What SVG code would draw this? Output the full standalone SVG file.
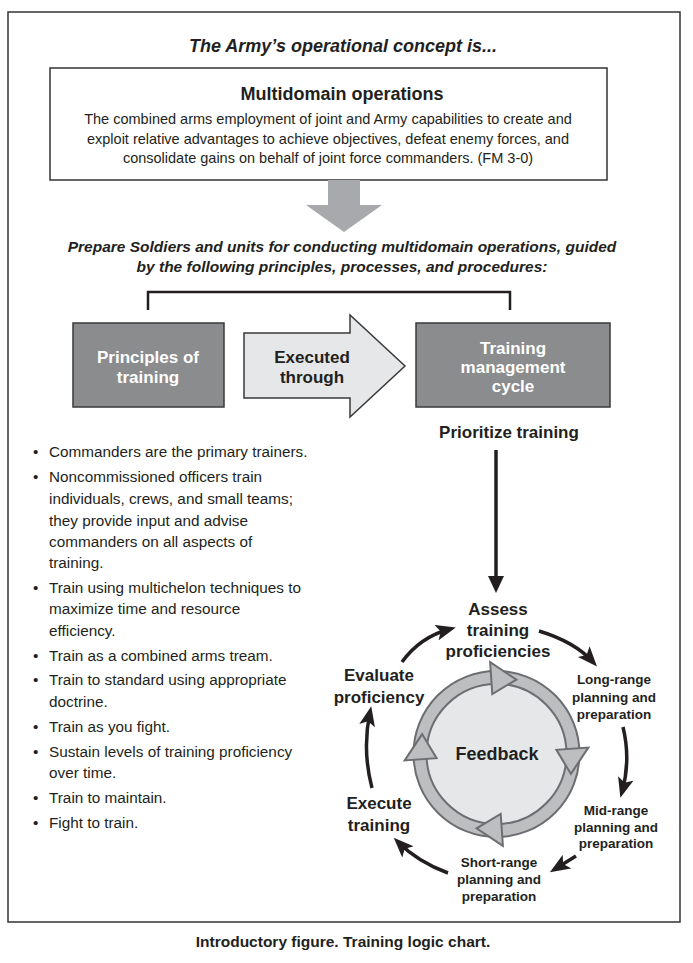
<svg xmlns="http://www.w3.org/2000/svg" width="693" height="963" viewBox="0 0 693 963">
<style>
text{font-family:"Liberation Sans",Arial,sans-serif;fill:#231f20}
.b{font-weight:bold}
.bi{font-weight:bold;font-style:italic}
.c{text-anchor:middle}
.w{fill:#ffffff}
.box{fill:#8a8c8e;stroke:#3a3a3a;stroke-width:1.5}
.ca{fill:none;stroke:#231f20;stroke-width:3.5;marker-end:url(#ah)}
.ring{fill:#bcbec0;stroke:#6d6e71;stroke-width:2;stroke-linejoin:miter}
</style>
<defs>
<marker id="ah" viewBox="0 0 20 16" markerWidth="20" markerHeight="16" refX="14" refY="8" orient="auto" markerUnits="userSpaceOnUse">
<path d="M0,0 L20,8 L0,16 L4.5,8 z" fill="#231f20"/>
</marker>
</defs>
<rect x="0" y="0" width="693" height="963" fill="#ffffff"/>
<rect x="8" y="12" width="672" height="910" fill="none" stroke="#333" stroke-width="1.5"/>
<text class="bi c" x="343" y="52" font-size="18">The Army’s operational concept is...</text>
<g id="multidomain">
<rect x="50" y="68" width="557" height="112" fill="#fff" stroke="#333" stroke-width="1.5"/>
<text class="b c" x="342" y="100" font-size="18">Multidomain operations</text>
<text class="c" x="328" y="124" font-size="14.5">The combined arms employment of joint and Army capabilities to create and</text>
<text class="c" x="328" y="144" font-size="14.5">exploit relative advantages to achieve objectives, defeat enemy forces, and</text>
<text class="c" x="328" y="163" font-size="14.5">consolidate gains on behalf of joint force commanders. (FM 3-0)</text>
</g>
<polygon points="328,180 360,180 360,205 382,205 344,232 306,205 328,205" fill="#a7a9ac"/>
<text class="bi c" x="342" y="252" font-size="15.5">Prepare Soldiers and units for conducting multidomain operations, guided</text>
<text class="bi c" x="342" y="272" font-size="15.5">by the following principles, processes, and procedures:</text>
<path d="M148,310 V292 H510 V310" fill="none" stroke="#231f20" stroke-width="2.5"/>
<g id="principles">
<rect class="box" x="73" y="323" width="151" height="84"/>
<text class="b c w" x="148" y="363" font-size="17">Principles of</text>
<text class="b c w" x="148" y="383" font-size="17">training</text>
</g>
<g id="executed">
<polygon points="244,333 350,333 350,315 405,366 350,417 350,398 244,398" fill="#e6e7e8" stroke="#3a3a3a" stroke-width="1.5"/>
<text class="b c" x="312" y="363" font-size="17">Executed</text>
<text class="b c" x="312" y="383" font-size="17">through</text>
</g>
<g id="tmc">
<rect class="box" x="416" y="323" width="194" height="84"/>
<text class="b c w" x="513" y="354" font-size="17">Training</text>
<text class="b c w" x="513" y="373" font-size="17">management</text>
<text class="b c w" x="513" y="392" font-size="17">cycle</text>
</g>
<g id="prioritize">
<text class="b c" x="509" y="438" font-size="17">Prioritize training</text>
</g>
<g id="principles-list" font-size="15.3">
<text x="33" y="457">•</text><text x="49" y="457">Commanders are the primary trainers.</text>
<text x="33" y="482">•</text><text x="49" y="482">Noncommissioned officers train</text>
<text x="49" y="504">individuals, crews, and small teams;</text>
<text x="49" y="526">they provide input and advise</text>
<text x="49" y="547">commanders on all aspects of</text>
<text x="49" y="568">training.</text>
<text x="33" y="593">•</text><text x="49" y="593">Train using multichelon techniques to</text>
<text x="49" y="614">maximize time and resource</text>
<text x="49" y="636">efficiency.</text>
<text x="33" y="661">•</text><text x="49" y="661">Train as a combined arms tream.</text>
<text x="33" y="685">•</text><text x="49" y="685">Train to standard using appropriate</text>
<text x="49" y="707">doctrine.</text>
<text x="33" y="732">•</text><text x="49" y="732">Train as you fight.</text>
<text x="33" y="757">•</text><text x="49" y="757">Sustain levels of training proficiency</text>
<text x="49" y="778">over time.</text>
<text x="33" y="803">•</text><text x="49" y="803">Train to maintain.</text>
<text x="33" y="828">•</text><text x="49" y="828">Fight to train.</text>
</g>
<g id="feedback">
<circle cx="496.5" cy="754" r="83" fill="#bcbec0" stroke="#6d6e71" stroke-width="2"/>
<circle cx="496.5" cy="754" r="70" fill="#e6e7e8" stroke="#6d6e71" stroke-width="2"/>
<polygon class="ring" points="490.1,662.2 516.4,679.6 492.3,694.1"/>
<polygon class="ring" points="588.3,747.6 570.9,773.9 556.4,749.8"/>
<polygon class="ring" points="502.9,845.8 476.6,828.4 500.7,813.9"/>
<polygon class="ring" points="404.7,760.4 422.1,734.1 436.6,758.2"/>
<text class="b c" x="497" y="760" font-size="18">Feedback</text>
</g>
<g id="assess">
<text class="b c" x="498" y="615" font-size="17">Assess</text>
<text class="b c" x="498" y="636" font-size="17">training</text>
<text class="b c" x="498" y="657" font-size="17">proficiencies</text>
</g>
<g id="long" font-size="13.5">
<text class="b c" x="614" y="684">Long-range</text>
<text class="b c" x="614" y="702">planning and</text>
<text class="b c" x="614" y="719">preparation</text>
</g>
<g id="mid" font-size="13.5">
<text class="b c" x="616" y="815">Mid-range</text>
<text class="b c" x="616" y="832">planning and</text>
<text class="b c" x="616" y="848">preparation</text>
</g>
<g id="short" font-size="13.5">
<text class="b c" x="499" y="867">Short-range</text>
<text class="b c" x="499" y="884">planning and</text>
<text class="b c" x="499" y="901">preparation</text>
</g>
<g id="execute">
<text class="b c" x="379" y="809" font-size="17">Execute</text>
<text class="b c" x="379" y="831" font-size="17">training</text>
</g>
<g id="evaluate">
<text class="b c" x="379" y="681" font-size="17">Evaluate</text>
<text class="b c" x="379" y="703" font-size="17">proficiency</text>
</g>
<g id="connectors">
<line x1="496" y1="450" x2="496" y2="579" stroke="#231f20" stroke-width="3.5"/>
<polygon points="488,576 504,576 496,593" fill="#231f20"/>
<path class="ca" d="M402,662 Q420,637 450,629"/>
<path class="ca" d="M539,631 Q575,642 593,662"/>
<path class="ca" d="M623,727 Q631,760 622,792"/>
<path class="ca" d="M576,856 L555,869"/>
<path class="ca" d="M448,873 Q418,862 398,842"/>
<path class="ca" d="M372,788 Q362,750 370,712"/>
</g>
<text class="b c" x="343" y="947" font-size="15.5">Introductory figure. Training logic chart.</text>
</svg>
